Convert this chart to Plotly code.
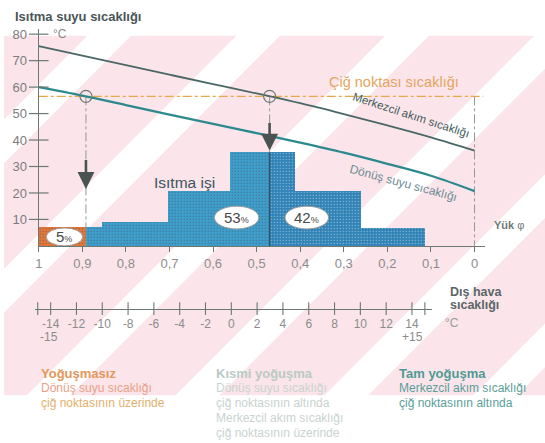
import numpy as np
import plotly.graph_objects as go

W, H = 545, 443
FONT = "Liberation Sans, Arial, sans-serif"

# ---------------- data ----------------
load_pts = [1.0, 0.9, 0.8, 0.7, 0.6, 0.5, 0.4, 0.3, 0.2, 0.1, 0.0]
flow_temp = [75.5, 71.9, 68.3, 64.7, 61.1, 57.6, 53.9, 49.8, 45.5, 41.0, 36.0]
return_temp = [60.0, 56.8, 53.2, 49.6, 46.1, 42.6, 39.0, 35.2, 31.0, 26.5, 20.7]
dew_point = 56.5

bar_edges = [1.0, 0.892, 0.856, 0.704, 0.560, 0.469, 0.412, 0.260, 0.114]
bar_heights = [7.0, 7.0, 9.0, 20.7, 35.3, 35.3, 20.7, 6.8]
bar_group = ["none", "part", "part", "part", "part", "full", "full", "full"]

share_values = ["5", "53", "42"]

y_ticks = [10, 20, 30, 40, 50, 60, 70, 80]
load_ticks = [1.0, 0.9, 0.8, 0.7, 0.6, 0.5, 0.4, 0.3, 0.2, 0.1, 0.0]
load_ticktext = ["1", "0,9", "0,8", "0,7", "0,6", "0,5", "0,4", "0,3", "0,2", "0,1", "0"]
temp_ticks = [-14, -12, -10, -8, -6, -4, -2, 0, 2, 4, 6, 8, 10, 12, 14]
temp_ticktext = ["-14", "-12", "-10", "-8", "-6", "-4", "-2", "0", "2", "4", "6", "8", "10", "12", "14"]
temp_marks = [-15] + temp_ticks + [15]

# ---------------- helpers ----------------
def px(x):
    return x / W

def py(y):
    return 1 - y / H

AX = "#6b7873"
GROUP_COL = {"none": "#E2773A", "part": "#3E9ECC", "full": "#2F82B6"}
GROUP_FG = {"none": "#EE9A66", "part": "#5DB3DA", "full": "#4B97C6"}

fig = go.Figure()

# background watermark stripes (decorative)
def clip(poly, f):
    out = []
    n = len(poly)
    for i in range(n):
        p, q = poly[i], poly[(i + 1) % n]
        fp, fq = f(p), f(q)
        if fp >= 0:
            out.append(p)
        if (fp >= 0) != (fq >= 0):
            t = fp / (fp - fq)
            out.append((p[0] + t * (q[0] - p[0]), p[1] + t * (q[1] - p[1])))
    return out

rect = [(0, 34), (W, 34), (W, 395), (0, 395)]
shapes = []
for c in range(-10, 1100, 150):
    a, b = c + 22, c + 128
    poly = clip(rect, lambda p, a=a: p[0] + p[1] - a)
    poly = clip(poly, lambda p, b=b: b - (p[0] + p[1]))
    if len(poly) >= 3:
        path = "M " + " L ".join(f"{px(x):.4f},{py(y):.4f}" for x, y in poly) + " Z"
        shapes.append(dict(type="path", path=path, xref="paper", yref="paper",
                           fillcolor="#FBE5EA", line=dict(width=0), layer="below"))

# ---------------- bars ----------------
centers = [(bar_edges[i] + bar_edges[i + 1]) / 2 for i in range(len(bar_heights))]
widths = [bar_edges[i] - bar_edges[i + 1] for i in range(len(bar_heights))]
fig.add_trace(go.Bar(
    x=centers, y=bar_heights, width=widths,
    marker=dict(color=[GROUP_COL[g] for g in bar_group], line=dict(width=0),
                pattern=dict(shape=".", fillmode="overlay", size=3, solidity=0.15,
                             fgcolor=[GROUP_FG[g] for g in bar_group])),
    hoverinfo="skip", showlegend=False))

# intersections
loads_asc = load_pts[::-1]
ret_cross = float(np.interp(dew_point, return_temp[::-1], loads_asc))
flow_cross = float(np.interp(dew_point, flow_temp[::-1], loads_asc))

# vertical helper lines
for L in [ret_cross, flow_cross, 0.0]:
    fig.add_trace(go.Scatter(x=[L, L], y=[dew_point, 0], mode="lines",
                             line=dict(color="#8f9896", width=1, dash="dashdot"),
                             hoverinfo="skip", showlegend=False))
# bar boundary at flow crossing
fig.add_trace(go.Scatter(x=[flow_cross, flow_cross], y=[0, max(bar_heights)], mode="lines",
                         line=dict(color="#2a5670", width=1.5), hoverinfo="skip", showlegend=False))

# dew point line
fig.add_trace(go.Scatter(x=[1.0, -0.02], y=[dew_point, dew_point], mode="lines",
                         line=dict(color="#E8A84A", width=1.4, dash="dashdot"),
                         hoverinfo="skip", showlegend=False))

# temperature curves
fig.add_trace(go.Scatter(x=load_pts, y=flow_temp, mode="lines", line_shape="spline",
                         line=dict(color="#4a6866", width=1.8), hoverinfo="skip", showlegend=False))
fig.add_trace(go.Scatter(x=load_pts, y=return_temp, mode="lines", line_shape="spline",
                         line=dict(color="#2c8a8e", width=2.3), hoverinfo="skip", showlegend=False))

# circles at crossings
fig.add_trace(go.Scatter(x=[ret_cross, flow_cross], y=[dew_point, dew_point], mode="markers",
                         marker=dict(symbol="circle-open", size=12, color="#6f7a78", line=dict(width=1.2)),
                         hoverinfo="skip", showlegend=False, cliponaxis=False))

# y-axis crossing ticks
fig.add_trace(go.Scatter(x=[1.0] * len(y_ticks), y=y_ticks, mode="markers",
                         marker=dict(symbol="line-ew", size=14, line=dict(width=1.2, color=AX)),
                         hoverinfo="skip", showlegend=False, cliponaxis=False))

# temperature axis ticks
fig.add_trace(go.Scatter(x=temp_marks, y=[0] * len(temp_marks), xaxis="x2", yaxis="y2",
                         mode="markers",
                         marker=dict(symbol="line-ns", size=9, line=dict(width=1.1, color=AX)),
                         hoverinfo="skip", showlegend=False, cliponaxis=False))

# ---------------- annotations ----------------
ann = []

def txt(x, y, text, size=12, color="#555", bold=False, xanchor="left", yanchor="middle",
        xref="paper", yref="paper", angle=0):
    t = f"<b>{text}</b>" if bold else text
    ann.append(dict(x=x, y=y, xref=xref, yref=yref, text=t, showarrow=False,
                    xanchor=xanchor, yanchor=yanchor, textangle=angle,
                    font=dict(family=FONT, size=size, color=color)))

txt(px(9), py(15), "Isıtma suyu sıcaklığı", 13, "#4b5557", bold=True)
txt(px(47), py(32), "°C", 12, "#8a8a8a")
txt(px(393), py(80), "Çiğ noktası sıcaklığı", 14.5, "#E6A35E", xanchor="center")
txt(px(410), py(114), "Merkezcil akım sıcaklığı", 11.5, "#3f5c5a", xanchor="center", angle=18)
txt(px(402), py(182), "Dönüş suyu sıcaklığı", 12, "#6d8b96", xanchor="center", angle=15)
txt(0.665, 24, "Isıtma işi", 15.5, "#3d5560", xanchor="center", xref="x", yref="y")
txt(px(492), py(224), "<b>Yük</b> φ", 11, "#6f7a78")
txt(px(447), py(291), "Dış hava", 12.5, "#5c6668", bold=True)
txt(px(447), py(304), "sıcaklığı", 12.5, "#5c6668", bold=True)
txt(px(442), py(322), "°C", 12, "#9a9a9a")
txt(-15, py(337), "-15", 12, "#8c8c8c", xanchor="left", xref="x2")
txt(15, py(337), "+15", 12, "#8c8c8c", xanchor="right", xref="x2")

# bottom explanation blocks
txt(px(35), py(373), "Yoğuşmasız", 13, "#E3975A", bold=True)
txt(px(35), py(388), "Dönüş suyu sıcaklığı", 12, "#E8A088")
txt(px(35), py(403), "çiğ noktasının üzerinde", 12, "#E2B06C")
txt(px(212), py(373), "Kısmi yoğuşma", 13, "#B8CBC2", bold=True)
txt(px(212), py(388), "Dönüş suyu sıcaklığı", 12, "#C9D3CF")
txt(px(212), py(403), "çiğ noktasının altında", 12, "#C9D3CF")
txt(px(212), py(418), "Merkezcil akım sıcaklığı", 12, "#C9D3CF")
txt(px(212), py(433), "çiğ noktasının üzerinde", 12, "#C9D3CF")
txt(px(396), py(373), "Tam yoğuşma", 13, "#4E9A94", bold=True)
txt(px(396), py(388), "Merkezcil akım sıcaklığı", 12, "#5A9E9A")
txt(px(396), py(403), "çiğ noktasının altında", 12, "#5A9E9A")

# arrows
for L, y0, y1 in [(ret_cross, 33, 21.5), (flow_cross, 47, 36)]:
    ann.append(dict(x=L, y=y1, ax=L, ay=y0, xref="x", yref="y", axref="x", ayref="y",
                    showarrow=True, arrowhead=2, arrowsize=1.3, arrowwidth=2.6,
                    arrowcolor="#4a5352", text=""))

# share labels in ellipses
share_pos = [(0.941, 3.4, 0.084, 6.8), (0.546, 10.7, 0.102, 8.6), (0.385, 10.7, 0.100, 8.6)]
for val, (cx, cy, w, h) in zip(share_values, share_pos):
    shapes.append(dict(type="circle", xref="x", yref="y", x0=cx - w / 2, x1=cx + w / 2,
                       y0=cy - h / 2, y1=cy + h / 2, fillcolor="white",
                       line=dict(color="#9a9a9a", width=1), layer="above"))
    ann.append(dict(x=cx, y=cy, xref="x", yref="y", showarrow=False,
                    text=f"{val}<span style='font-size:9px'>%</span>",
                    font=dict(family=FONT, size=15, color="#4a4a4a")))

fig.update_layout(
    width=W, height=H, margin=dict(l=0, r=0, t=0, b=0),
    paper_bgcolor="white", plot_bgcolor="rgba(0,0,0,0)",
    showlegend=False, bargap=0, shapes=shapes, annotations=ann,
    font=dict(family=FONT),
    xaxis=dict(domain=[px(35), px(485)], range=[1.0, -0.025], anchor="y",
               showline=True, linecolor=AX, linewidth=1.2, ticks="outside", ticklen=5,
               tickcolor=AX, tickvals=load_ticks, ticktext=load_ticktext,
               tickfont=dict(size=13, color="#8c8c8c"), showgrid=False, zeroline=False),
    yaxis=dict(domain=[py(245), py(27)], range=[0, 82], anchor="x",
               showline=True, linecolor=AX, linewidth=1.2, ticks="",
               tickvals=y_ticks, tickfont=dict(size=13, color="#7c7c7c"),
               ticklabelstandoff=8, showgrid=False, zeroline=False),
    xaxis2=dict(domain=[px(31), px(431)], range=[-15.23, 15.54], anchor="y2",
                showline=True, linecolor=AX, linewidth=1.2, ticks="",
                tickvals=temp_ticks, ticktext=temp_ticktext,
                tickfont=dict(size=12, color="#8c8c8c"), ticklabelstandoff=4,
                showgrid=False, zeroline=False),
    yaxis2=dict(domain=[py(308), py(300)], range=[0, 1], anchor="x2", visible=False),
)

fig.write_html("out.html", config={"displayModeBar": False, "staticPlot": True},
               post_script="document.body.style.margin='0px';")
